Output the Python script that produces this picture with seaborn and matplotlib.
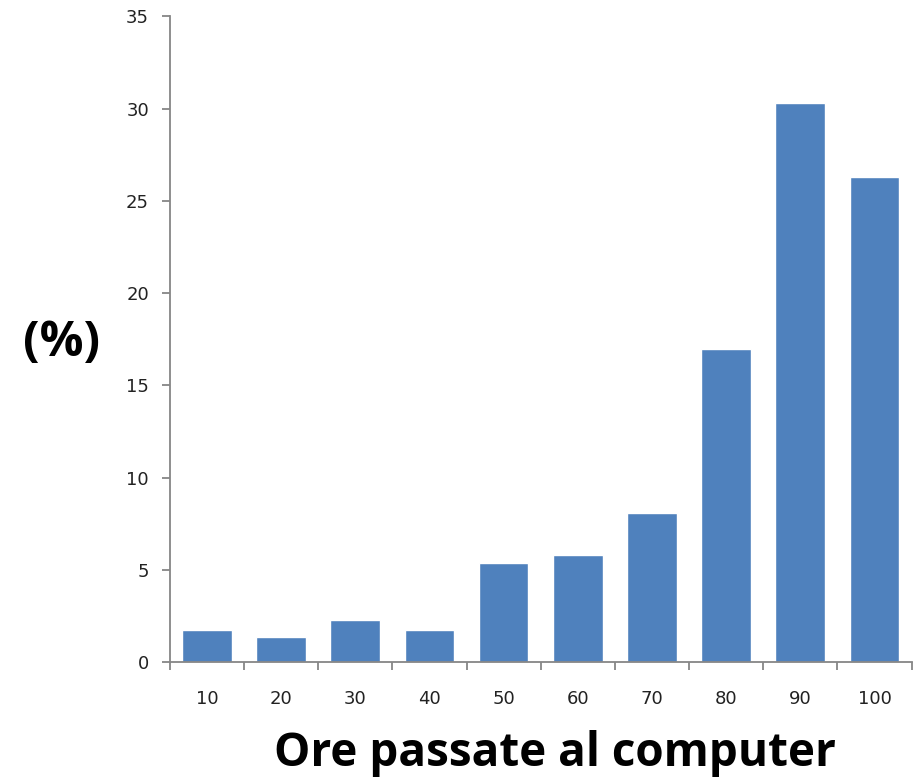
import numpy as np
import pandas as pd
import seaborn as sns
import matplotlib.pyplot as plt
from matplotlib.ticker import FixedLocator

ore = ["10", "20", "30", "40", "50", "60", "70", "80", "90", "100"]
percentuale = [1.76, 1.35, 2.3, 1.76, 5.34, 5.78, 8.05, 16.98, 30.29, 26.27]

df = pd.DataFrame({"ore": ore, "pct": percentuale})

sns.set_style("white")
plt.rcParams['font.family'] = ['DejaVu Sans']

fig = plt.figure(figsize=(9.18, 7.77), dpi=100)
ax = fig.add_axes([0.185, 0.148, 0.808, 0.831])

sns.barplot(data=df, x="ore", y="pct", color="#4F81BD", saturation=1,
            width=0.67, ax=ax)

ax.set_ylim(0, 35)
ax.set_xlim(-0.5, len(ore) - 0.5)
ax.set_yticks(range(0, 36, 5))

# Excel-style ticks between categories
ax.xaxis.set_minor_locator(FixedLocator(np.arange(-0.5, len(ore), 1.0)))
ax.tick_params(axis="x", which="major", length=0, pad=20, labelsize=13, colors="#222222")
ax.tick_params(axis="x", which="minor", length=6, width=1.3, color="#868686", direction="out", bottom=True)
ax.tick_params(axis="y", which="major", length=6, width=1.3, color="#868686", pad=9,
               labelsize=13, labelcolor="#222222", left=True, direction="out")

for s in ["top", "right"]:
    ax.spines[s].set_visible(False)
for s in ["left", "bottom"]:
    ax.spines[s].set_color("#868686")
    ax.spines[s].set_linewidth(1.3)

ax.set_xlabel("Ore passate al computer", fontsize=33, fontweight="bold",
              family="Open Sans", color="black", va="center")
ax.xaxis.set_label_coords(0.519, -0.141)
ax.set_ylabel("(%)", fontsize=35, fontweight="bold", family="Open Sans",
              rotation=0, ha="center", va="center", color="black")
ax.yaxis.set_label_coords(-0.146, 0.494)

plt.savefig("out.png", dpi=100)
